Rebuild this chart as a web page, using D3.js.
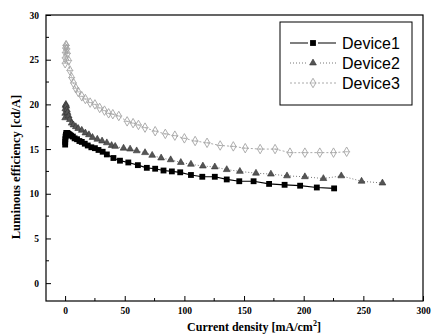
<!DOCTYPE html>
<html>
<head>
<meta charset="utf-8">
<script src="https://cdn.jsdelivr.net/npm/d3@7"></script>
<style>
	body { margin: 0; background: #fff; }
	svg { display: block; }
</style>
</head>
<body>
<div id="chart"></div>
<script>
// current density [mA/cm2], luminous efficiency [cd/A]
const device1X = [0.05, 0.1, 0.2, 0.4, 0.7, 1, 1.5, 2, 3, 4, 5, 6.5, 8, 10, 12, 14, 16.5, 19, 22, 25, 28, 31.5, 35, 40.5, 46, 53, 61, 68.5, 75.5, 82.5, 89.5, 96.5, 105.5, 115, 125.5, 135.5, 146, 158, 171, 184, 197, 211, 225.5];
const device1Y = [15.5, 15.8, 16.1, 16.4, 16.6, 16.8, 16.8, 16.8, 16.7, 16.6, 16.5, 16.4, 16.2, 16.1, 15.9, 15.8, 15.6, 15.4, 15.2, 15.1, 14.9, 14.7, 14.4, 14.0, 13.7, 13.5, 13.2, 12.9, 12.8, 12.6, 12.5, 12.4, 12.1, 11.9, 11.9, 11.6, 11.4, 11.4, 11.1, 11.0, 10.9, 10.7, 10.6];

const device2X = [0.05, 0.1, 0.2, 0.4, 0.7, 1, 1.5, 2, 3, 4, 5.5, 7, 9, 11, 14, 17, 20, 23, 27, 31, 35, 39, 42, 49, 54.5, 60, 67, 73, 80.5, 88.5, 97, 105.5, 115.5, 125.5, 135.5, 146.5, 160, 172.5, 186, 201, 216.5, 231.5, 248.5, 266];
const device2Y = [18.5, 19.0, 19.5, 19.9, 20.0, 19.8, 19.4, 19.1, 18.7, 18.3, 17.9, 17.7, 17.5, 17.3, 17.1, 16.8, 16.6, 16.3, 16.1, 15.9, 15.7, 15.4, 15.3, 15.1, 15.0, 14.8, 14.6, 14.3, 14.0, 13.8, 13.5, 13.3, 13.1, 13.0, 12.7, 12.5, 12.3, 12.2, 12.0, 11.9, 11.7, 12.0, 11.4, 11.2];

const device3X = [0.05, 0.1, 0.2, 0.4, 0.7, 1, 1.5, 2, 3, 4, 5.5, 7, 9, 11, 14, 17, 21, 25, 29, 33, 36.5, 40, 45, 52, 57, 61.5, 67, 75.5, 84, 92, 100, 109, 119, 130, 141, 151, 163.5, 176, 188.5, 201, 213.5, 225, 236];
const device3Y = [24.6, 25.2, 25.8, 26.3, 26.6, 26.6, 26.2, 25.7, 24.9, 23.8, 23.0, 22.4, 21.8, 21.4, 20.9, 20.6, 20.2, 20.0, 19.6, 19.3, 19.0, 18.9, 18.7, 18.1, 17.9, 17.7, 17.4, 17.0, 16.7, 16.5, 16.2, 15.9, 15.7, 15.4, 15.3, 15.1, 15.0, 15.0, 14.6, 14.6, 14.6, 14.6, 14.7];

const seriesNames = ["Device1", "Device2", "Device3"];
const xTicks = [0, 50, 100, 150, 200, 250, 300];
const yTicks = [0, 5, 10, 15, 20, 25, 30];

const width = 432;
const height = 335;
const margin = { top: 15, right: 9, bottom: 34, left: 46 };

const svg = d3.select("#chart").append("svg")
	.attr("width", width)
	.attr("height", height);

const xScale = d3.scaleLinear().domain([-16, 300]).range([margin.left, width - margin.right]);
const yScale = d3.scaleLinear().domain([-2, 30]).range([height - margin.bottom, margin.top]);

const serif = "'Liberation Serif', 'DejaVu Serif', serif";

// frame
svg.append("rect")
	.attr("x", margin.left)
	.attr("y", margin.top)
	.attr("width", width - margin.right - margin.left)
	.attr("height", height - margin.bottom - margin.top)
	.attr("fill", "none")
	.attr("stroke", "#000")
	.attr("stroke-width", 1.2);

// x axis, ticks inward
const xAxis = svg.append("g")
	.attr("class", "x axis")
	.attr("transform", `translate(0,${yScale.range()[0]})`)
	.call(d3.axisBottom(xScale).tickValues(xTicks).tickSizeInner(-5).tickSizeOuter(0).tickPadding(6));
xAxis.append("g")
	.selectAll("line")
	.data(d3.range(25, 300, 50))
	.enter().append("line")
		.attr("x1", d => xScale(d))
		.attr("x2", d => xScale(d))
		.attr("y1", 0)
		.attr("y2", -3)
		.attr("stroke", "#000");

// y axis, ticks inward
const yAxis = svg.append("g")
	.attr("class", "y axis")
	.attr("transform", `translate(${xScale.range()[0]},0)`)
	.call(d3.axisLeft(yScale).tickValues(yTicks).tickSizeInner(-5).tickSizeOuter(0).tickPadding(7));
yAxis.append("g")
	.selectAll("line")
	.data(d3.range(2.5, 30, 5))
	.enter().append("line")
		.attr("x1", 0)
		.attr("x2", 3)
		.attr("y1", d => yScale(d))
		.attr("y2", d => yScale(d))
		.attr("stroke", "#000");

svg.selectAll(".axis .domain").remove();
svg.selectAll(".axis text")
	.attr("font-family", serif)
	.attr("font-weight", "bold")
	.attr("font-size", 9.5)
	.attr("fill", "#000");
svg.selectAll(".axis .tick line").attr("stroke", "#000");

// axis titles
const xTitle = svg.append("text")
	.attr("x", 254)
	.attr("y", 331)
	.attr("text-anchor", "middle")
	.attr("font-family", serif)
	.attr("font-weight", "bold")
	.attr("font-size", 12);
xTitle.append("tspan").text("Current density [mA/cm");
xTitle.append("tspan").attr("font-size", 8).attr("dy", -5).text("2");
xTitle.append("tspan").attr("dy", 5).text("]");

svg.append("text")
	.attr("transform", "translate(20,167) rotate(-90)")
	.attr("text-anchor", "middle")
	.attr("font-family", serif)
	.attr("font-weight", "bold")
	.attr("font-size", 12.5)
	.text("Luminous efficiency [cd/A]");

// series
const series = [
	{ name: seriesNames[0], xs: device1X, ys: device1Y, stroke: "#000", dash: null, lineWidth: 1.2 },
	{ name: seriesNames[1], xs: device2X, ys: device2Y, stroke: "#777", dash: "1,2", lineWidth: 1 },
	{ name: seriesNames[2], xs: device3X, ys: device3Y, stroke: "#aaa", dash: "2,2", lineWidth: 1 }
];

const line = d3.line()
	.x(d => xScale(d[0]))
	.y(d => yScale(d[1]));

function drawMarker(g, idx) {
	if (idx === 0) {
		g.append("path")
			.attr("d", d3.symbol().type(d3.symbolSquare).size(34)())
			.attr("fill", "#000");
	} else if (idx === 1) {
		g.append("path")
			.attr("d", d3.symbol().type(d3.symbolTriangle).size(20)())
			.attr("fill", "#555")
			.attr("stroke", "#333")
			.attr("stroke-width", 0.6);
	} else {
		g.append("path")
			.attr("d", d3.symbol().type(d3.symbolDiamond).size(26)())
			.attr("fill", "none")
			.attr("stroke", "#a5a5a5")
			.attr("stroke-width", 0.9);
		g.append("path")
			.attr("d", "M-3.5,0H3.5")
			.attr("stroke", "#aaa")
			.attr("stroke-width", 0.8);
	}
}

series.slice().reverse().forEach(s => {
	const idx = seriesNames.indexOf(s.name);
	const points = s.xs.map((x, i) => [x, s.ys[i]]);
	const grp = svg.append("g").attr("class", "series");
	grp.append("path")
		.datum(points)
		.attr("fill", "none")
		.attr("stroke", s.stroke)
		.attr("stroke-width", s.lineWidth)
		.attr("stroke-dasharray", s.dash)
		.attr("d", line);
	grp.selectAll("g.pt")
		.data(points)
		.enter().append("g")
			.attr("class", "pt")
			.attr("transform", d => `translate(${xScale(d[0])},${yScale(d[1])})`)
			.each(function() { drawMarker(d3.select(this), idx); });
});

// legend
const legend = svg.append("g").attr("class", "legend");
legend.append("rect")
	.attr("x", 280)
	.attr("y", 22)
	.attr("width", 132)
	.attr("height", 83)
	.attr("fill", "#fff")
	.attr("stroke", "#000")
	.attr("stroke-width", 1);
series.forEach((s, i) => {
	const ly = 43 + i * 20;
	const item = legend.append("g");
	item.append("line")
		.attr("x1", 290)
		.attr("x2", 336)
		.attr("y1", ly)
		.attr("y2", ly)
		.attr("stroke", s.stroke)
		.attr("stroke-width", s.lineWidth)
		.attr("stroke-dasharray", s.dash);
	const m = item.append("g").attr("transform", `translate(313,${ly})`);
	m.append("rect").attr("x", -5).attr("y", -5).attr("width", 10).attr("height", 10).attr("fill", "#fff");
	drawMarker(m, i);
	item.append("text")
		.attr("x", 342)
		.attr("y", ly + 6)
		.attr("font-family", "'Liberation Sans', Arial, sans-serif")
		.attr("font-size", 16)
		.attr("fill", "#000")
		.text(s.name);
});
</script>
</body>
</html>
